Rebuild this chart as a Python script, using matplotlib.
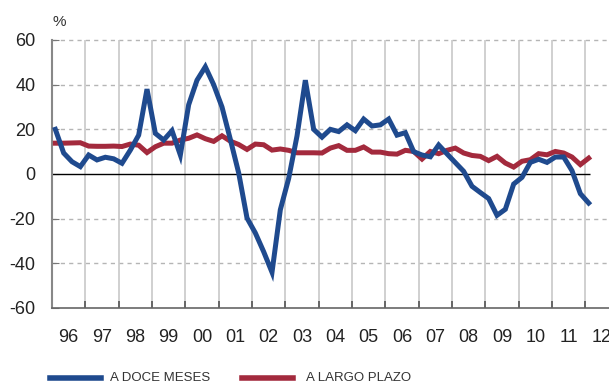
import matplotlib.pyplot as plt
import numpy as np
from matplotlib.lines import Line2D

plt.rcParams['font.family'] = ['Liberation Sans', 'DejaVu Sans']
plt.rcParams['axes.unicode_minus'] = False

# Quarterly series, 1996 Q1 - 2012 Q1 (%)
doce_meses = [20, 9.4, 5.5, 3.3, 8.5, 6.3, 7.5, 6.8, 4.8, 10.7, 17.4, 38, 18.2, 15.2,
              19.4, 8.5, 31, 42, 48, 40, 30, 15.5, 0.5, -19.7, -26.4, -34.8, -44,
              -16, -2, 17, 42, 20, 16.5, 20, 19, 22, 19.4, 24.6, 21.5, 22, 24.6,
              17.4, 18.5, 10, 8.5, 7.7, 13, 9, 5.1, 1.2, -5.5, -8.3, -11, -18.5,
              -15.8, -4.5, -1.5, 5.2, 6.6, 5.2, 7.6, 7.6, 1.5, -8.8, -13]
largo_plazo = [13.8, 13.8, 13.9, 14, 12.5, 12.4, 12.4, 12.5, 12.3, 13.4, 12.9, 9.6,
               12.2, 13.8, 13.8, 15.2, 16, 17.5, 15.8, 14.6, 17.1, 14.7, 13.2, 11,
               13.4, 13.1, 10.7, 11.2, 10.6, 9.5, 9.5, 9.5, 9.4, 11.6, 12.7, 10.6,
               10.6, 12.1, 9.8, 9.8, 9.1, 8.9, 10.6, 10.1, 6.7, 10.1, 9.1, 10.6,
               11.6, 9.4, 8.3, 7.9, 6, 7.9, 4.9, 3.1, 5.7, 6.4, 9.1, 8.6, 10.1, 9.4,
               7.6, 4.2, 7.1]
years = list(range(1996, 2013))
year_labels = ['96', '97', '98', '99', '00', '01', '02', '03', '04', '05', '06',
               '07', '08', '09', '10', '11', '12']
series_names = ['A DOCE MESES', 'A LARGO PLAZO']

blue = '#1f4a8e'
red = '#a32a3d'

x = 1996.1 + 0.25 * np.arange(len(doce_meses))

fig = plt.figure(figsize=(6.09, 3.85), dpi=100)
ax = fig.add_axes([52 / 609, 1 - 308 / 385, 1 - 52 / 609, 268 / 385])

# grid
for yv in [-40, -20, 20, 40, 60]:
    ax.axhline(yv, color='#b5b5b5', lw=1, ls=(0, (3, 3)), zorder=1, clip_on=False)
for yr in years[1:]:
    ax.axvline(yr, color='#c8c8c8', lw=1.2, zorder=1)
ax.hlines(0, 1996, 2012.15, color='black', lw=1, zorder=2)

ax.plot(x, largo_plazo, color=red, lw=3.6, solid_joinstyle='miter', zorder=3)
ax.plot(x, doce_meses, color=blue, lw=3.6, solid_joinstyle='miter', zorder=4)

ax.set_xlim(1996, 2012.71)
ax.set_ylim(-60, 60)
ax.set_yticks([-60, -40, -20, 0, 20, 40, 60])
ax.set_xticks(years)
ax.set_xticklabels([])
ax.set_xticks([y + 0.5 for y in years], minor=True)
ax.set_xticklabels(year_labels, minor=True)
ax.tick_params(axis='x', which='major', direction='in', length=5, color='#555555', width=1.2)
ax.tick_params(axis='x', which='minor', length=0, pad=15, labelsize=13, labelcolor='#222222')
ax.tick_params(axis='y', direction='in', length=5, color='#777777', pad=12,
               labelsize=13, labelcolor='#222222')

for s in ['top', 'right']:
    ax.spines[s].set_visible(False)
ax.spines['left'].set_color('#888888')
ax.spines['left'].set_linewidth(1.5)
ax.spines['bottom'].set_color('#666666')
ax.spines['bottom'].set_linewidth(1.2)

fig.text(52 / 609, 1 - 22 / 385, '%', fontsize=11, color='#333333', va='center', ha='left')

# legend
ly = 1 - 378 / 385
fig.add_artist(Line2D([50 / 609, 101 / 609], [ly, ly], color=blue, lw=4))
fig.text(110 / 609, ly, series_names[0], fontsize=9.5, color='#333333',
         va='center', ha='left')
fig.add_artist(Line2D([242 / 609, 293 / 609], [ly, ly], color=red, lw=4))
fig.text(306 / 609, ly, series_names[1], fontsize=9.5, color='#333333',
         va='center', ha='left')

fig.savefig('out.png', dpi=100)
